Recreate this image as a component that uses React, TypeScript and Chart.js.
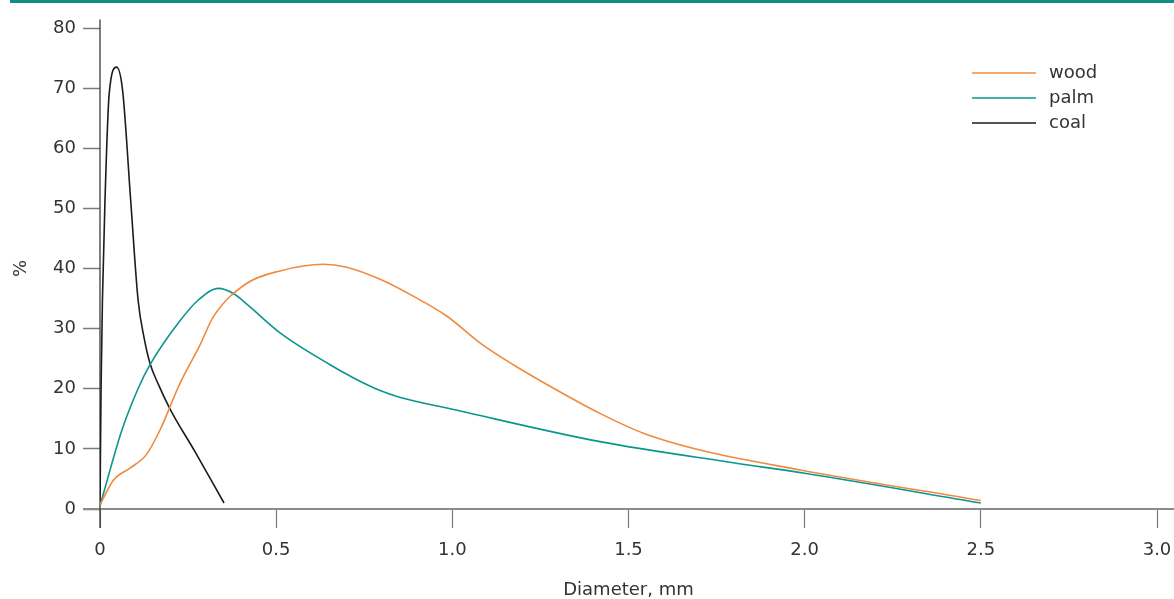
import React, { useEffect, useRef } from 'react';
import { Chart, registerables } from 'chart.js';

Chart.register(...registerables);

// Diameter (mm) and share (%) for each fuel
const woodX = [0, 0.038, 0.085, 0.131, 0.17, 0.227, 0.284, 0.322, 0.416, 0.511, 0.634, 0.7, 0.795, 0.889, 0.984, 1.079, 1.173, 1.296, 1.419, 1.542, 1.703, 1.987, 2.5];
const woodY = [0.7, 4.8, 6.8, 9, 13.1, 20.9, 27.3, 32, 37.5, 39.6, 40.7, 40.2, 38.2, 35.4, 32.1, 27.6, 24, 19.8, 15.9, 12.6, 9.8, 6.5, 1.4];

const palmX = [0, 0.03, 0.062, 0.108, 0.142, 0.227, 0.28, 0.336, 0.38, 0.42, 0.511, 0.653, 0.72, 0.795, 0.85, 1.0, 1.419, 1.797, 2.0, 2.5];
const palmY = [0.5, 6.8, 13.1, 20, 24, 31.3, 34.8, 36.7, 35.8, 33.9, 29.3, 24, 21.8, 19.7, 18.6, 16.6, 11.2, 7.7, 5.95, 1.0];

const coalX = [0, 0.003, 0.007, 0.014, 0.026, 0.047, 0.064, 0.087, 0.108, 0.125, 0.142, 0.165, 0.2, 0.27, 0.352];
const coalY = [0.5, 20, 35, 51, 69, 73.5, 69.7, 51.4, 34.8, 28.5, 24.2, 20.8, 16.5, 9.5, 1];

const seriesLabels = ['wood', 'palm', 'coal'];
const seriesColors = ['#f08a3e', '#0a968f', '#1c1c1c'];

const xTicks = [0, 0.5, 1.0, 1.5, 2.0, 2.5, 3.0];
const yTicks = [0, 10, 20, 30, 40, 50, 60, 70, 80];

const xTitle = 'Diameter, mm';
const yTitle = '%';

const FONT = "'DejaVu Sans', 'Liberation Sans', sans-serif";
const FS = 18;

const pts = (xs: number[], ys: number[]) => xs.map((x, i) => ({ x, y: ys[i] }));

const decorPlugin = {
  id: 'decor',
  beforeDraw(chart: any) {
    const ctx = chart.ctx;
    ctx.save();
    ctx.fillStyle = '#0d8f84';
    ctx.fillRect(10, 0, chart.width - 10, 3);
    ctx.restore();
  },
  beforeDatasetsDraw(chart: any) {
    const ctx = chart.ctx;
    const xs = chart.scales.x;
    const ys = chart.scales.y;
    const y0 = ys.getPixelForValue(0);
    const x0 = xs.getPixelForValue(0);
    ctx.save();
    ctx.strokeStyle = '#8a8a8a';
    ctx.lineWidth = 2;
    ctx.beginPath();
    ctx.moveTo(xs.left - 17, y0);
    ctx.lineTo(chart.width, y0);
    ctx.stroke();
    ctx.strokeStyle = '#3a3a3a';
    ctx.lineWidth = 1.3;
    ctx.beginPath();
    ctx.moveTo(x0, ys.getPixelForValue(81.4));
    ctx.lineTo(x0, y0 + 19);
    ctx.stroke();
    ctx.restore();
  },
  afterDraw(chart: any) {
    const ctx = chart.ctx;
    const area = chart.chartArea;
    ctx.save();
    ctx.font = `${FS}px ${FONT}`;
    ctx.textBaseline = 'middle';
    ctx.textAlign = 'left';
    chart.data.datasets.forEach((ds: any, i: number) => {
      const y = area.top + 45 + i * 25;
      const x = area.right - 185;
      ctx.strokeStyle = ds.borderColor;
      ctx.lineWidth = 1.5;
      ctx.beginPath();
      ctx.moveTo(x, y);
      ctx.lineTo(x + 64, y);
      ctx.stroke();
      ctx.fillStyle = '#333';
      ctx.fillText(ds.label, x + 77, y);
    });
    ctx.restore();
  },
};

export default function App() {
  const ref = useRef<HTMLCanvasElement>(null);
  useEffect(() => {
    if (!ref.current) return;
    const datasets = [
      pts(woodX, woodY),
      pts(palmX, palmY),
      pts(coalX, coalY),
    ].map((data, i) => ({
      label: seriesLabels[i],
      data,
      borderColor: seriesColors[i],
      backgroundColor: seriesColors[i],
      borderWidth: 1.6,
      pointRadius: 0,
      fill: false,
      cubicInterpolationMode: 'monotone' as const,
    }));
    const chart = new Chart(ref.current, {
      type: 'line',
      data: { datasets },
      plugins: [decorPlugin],
      options: {
        animation: false,
        responsive: true,
        maintainAspectRatio: false,
        layout: { padding: { top: 28, right: 17, left: 0, bottom: 0 } },
        plugins: { legend: { display: false }, tooltip: { enabled: false } },
        scales: {
          x: {
            type: 'linear',
            min: 0,
            max: 3,
            afterFit: (s: any) => { s.height = 90; s.paddingLeft = 0; s.paddingRight = 0; },
            afterBuildTicks: (s: any) => { s.ticks = xTicks.map((v) => ({ value: v })); },
            border: { display: false },
            grid: { drawOnChartArea: false, drawTicks: true, tickLength: 19, tickColor: '#7a7a7a', tickWidth: 1.2 },
            ticks: {
              padding: 12,
              color: '#333',
              font: { family: FONT, size: FS },
              callback: (v: any) => (Number(v) === 0 ? '0' : Number(v).toFixed(1)),
            },
            title: { display: true, text: xTitle, color: '#333', font: { family: FONT, size: FS }, padding: { top: 0, bottom: -2 } },
          },
          y: {
            type: 'linear',
            min: 0,
            max: 80,
            afterFit: (s: any) => { s.width = 100; },
            afterBuildTicks: (s: any) => { s.ticks = yTicks.map((v) => ({ value: v })); },
            border: { display: false },
            grid: { drawOnChartArea: false, drawTicks: true, tickLength: 17, tickColor: '#7a7a7a', tickWidth: 1.5 },
            ticks: { padding: 7, color: '#333', font: { family: FONT, size: FS } },
            title: { display: true, text: yTitle, color: '#333', font: { family: FONT, size: FS }, padding: { top: 11, bottom: 0 } },
          },
        },
      },
    });
    return () => chart.destroy();
  }, []);
  return (
    <div style={{ position: 'absolute', left: 0, top: 0, width: 1174, height: 599, background: '#fff' }}>
      <canvas ref={ref} />
    </div>
  );
}
